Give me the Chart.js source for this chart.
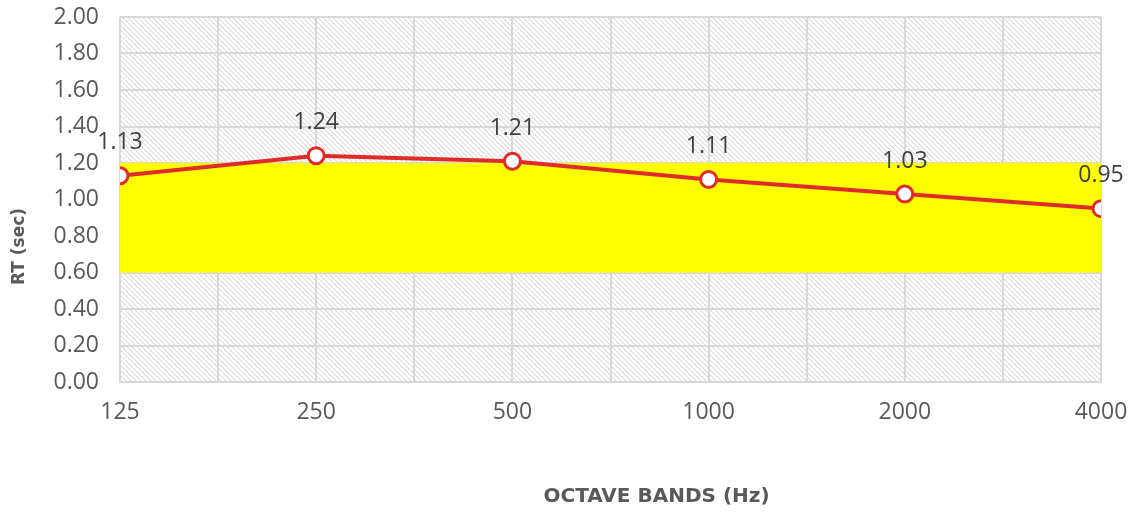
<!DOCTYPE html>
<html>
<head>
<meta charset="utf-8">
<script src="https://cdn.jsdelivr.net/npm/chart.js@4/dist/chart.umd.min.js"></script>
<style>
  html, body { margin: 0; padding: 0; background: #ffffff; }
  #wrap { width: 1135px; height: 515px; position: relative; }
</style>
</head>
<body>
<div id="wrap"><canvas id="rt"></canvas></div>
<script>
// Octave band centre frequencies and measured reverberation time (s)
const bands = ['125', '250', '500', '1000', '2000', '4000'];
const rtValues = [1.13, 1.24, 1.21, 1.11, 1.03, 0.95];
// Recommended RT range (s)
const rangeLow = [0.60, 0.60, 0.60, 0.60, 0.60, 0.60];
const rangeHigh = [1.20, 1.20, 1.20, 1.20, 1.20, 1.20];
// Y axis
const yMin = 0, yMax = 2.0, yStep = 0.2;
// Axis titles
const xTitle = 'OCTAVE BANDS (Hz)';
const yTitle = 'RT (sec)';

const FONT = "'Open Sans', 'DejaVu Sans', sans-serif";
const TITLE_FONT = "'DejaVu Sans', sans-serif";
const TEXT = '#595959';

const toPoints = arr => arr.map((v, i) => ({ x: i, y: v }));

// Diagonal hatch tile for the plot background
function makeHatch(ctx) {
  const n = 5;
  const c = document.createElement('canvas');
  c.width = n; c.height = n;
  const g = c.getContext('2d');
  g.fillStyle = '#ffffff';
  g.fillRect(0, 0, n, n);
  for (let y = 0; y < n; y++) {
    for (let x = 0; x < n; x++) {
      const d = ((x - y) % n + n) % n;
      if (d === 0) { g.fillStyle = '#d9d9d9'; g.fillRect(x, y, 1, 1); }
      else if (d === 1) { g.fillStyle = '#f2f2f2'; g.fillRect(x, y, 1, 1); }
    }
  }
  return ctx.createPattern(c, 'repeat');
}

const hatchBg = {
  id: 'hatchBg',
  beforeDraw(chart) {
    const { ctx, chartArea: a } = chart;
    ctx.save();
    ctx.fillStyle = makeHatch(ctx);
    ctx.fillRect(a.left, a.top, a.right - a.left, a.bottom - a.top);
    ctx.restore();
  }
};

// Value labels above the RT points
const valueLabels = {
  id: 'valueLabels',
  afterDatasetsDraw(chart) {
    const idx = chart.data.datasets.findIndex(d => d.label === 'RT');
    const meta = chart.getDatasetMeta(idx);
    const { ctx } = chart;
    ctx.save();
    ctx.font = "23px " + FONT;
    ctx.fillStyle = '#404040';
    ctx.textAlign = 'center';
    ctx.textBaseline = 'middle';
    meta.data.forEach((pt, i) => {
      ctx.fillText(rtValues[i].toFixed(2), pt.x, pt.y - 33);
    });
    ctx.restore();
  }
};

// Axis titles, placed like the spreadsheet layout
const axisTitles = {
  id: 'axisTitles',
  afterDraw(chart) {
    const { ctx, chartArea: a } = chart;
    ctx.save();
    ctx.fillStyle = TEXT;
    ctx.textAlign = 'center';
    ctx.textBaseline = 'middle';
    ctx.font = "bold 20px " + TITLE_FONT;
    ctx.fillText(xTitle, (a.left + a.right) / 2 + 46, chart.height - 18);
    ctx.translate(20, (a.top + a.bottom) / 2 + 47);
    ctx.rotate(-Math.PI / 2);
    ctx.font = "bold 17px " + TITLE_FONT;
    ctx.fillText(yTitle, 0, 0);
    ctx.restore();
  }
};

new Chart(document.getElementById('rt'), {
  type: 'line',
  data: {
    datasets: [
      {
        label: 'low',
        data: toPoints(rangeLow),
        borderWidth: 0,
        pointRadius: 0,
        fill: false,
        order: 3
      },
      {
        label: 'high',
        data: toPoints(rangeHigh),
        borderWidth: 0,
        pointRadius: 0,
        backgroundColor: '#ffff00',
        fill: '-1',
        order: 2
      },
      {
        label: 'RT',
        data: toPoints(rtValues),
        borderColor: '#e02b2b',
        borderWidth: 4,
        pointRadius: 8,
        pointBorderWidth: 3,
        pointBackgroundColor: '#ffffff',
        pointBorderColor: '#e02b2b',
        tension: 0,
        fill: false,
        order: 1
      }
    ]
  },
  options: {
    responsive: true,
    maintainAspectRatio: false,
    animation: false,
    events: [],
    layout: { padding: { top: 17, right: 34, left: 0, bottom: 0 } },
    plugins: {
      legend: { display: false },
      tooltip: { enabled: false }
    },
    scales: {
      x: {
        type: 'linear',
        min: 0,
        max: bands.length - 1,
        afterFit(s) {
          s.height = 133;
          s.paddingLeft = 0;
          s.paddingRight = 0;
        },
        afterBuildTicks(s) {
          const t = [];
          for (let v = 0; v <= bands.length - 1 + 1e-9; v += 0.5) t.push({ value: v });
          s.ticks = t;
        },
        grid: { color: '#d9d9d9', lineWidth: 2, drawTicks: false },
        border: { color: '#d9d9d9', width: 2 },
        ticks: {
          autoSkip: false,
          maxRotation: 0,
          padding: 17,
          color: TEXT,
          font: { family: FONT, size: 23 },
          callback: v => Number.isInteger(v) ? bands[v] : ''
        },
        title: { display: false }
      },
      y: {
        min: yMin,
        max: yMax,
        afterFit(s) {
          s.width = 120;
          s.paddingTop = 0;
          s.paddingBottom = 0;
        },
        grid: { color: '#d9d9d9', lineWidth: 2, drawTicks: false },
        border: { display: false },
        ticks: {
          stepSize: yStep,
          padding: 21,
          color: TEXT,
          font: { family: FONT, size: 23 },
          callback: v => v.toFixed(2)
        },
        title: { display: false }
      }
    }
  },
  plugins: [hatchBg, valueLabels, axisTitles]
});
</script>
</body>
</html>
